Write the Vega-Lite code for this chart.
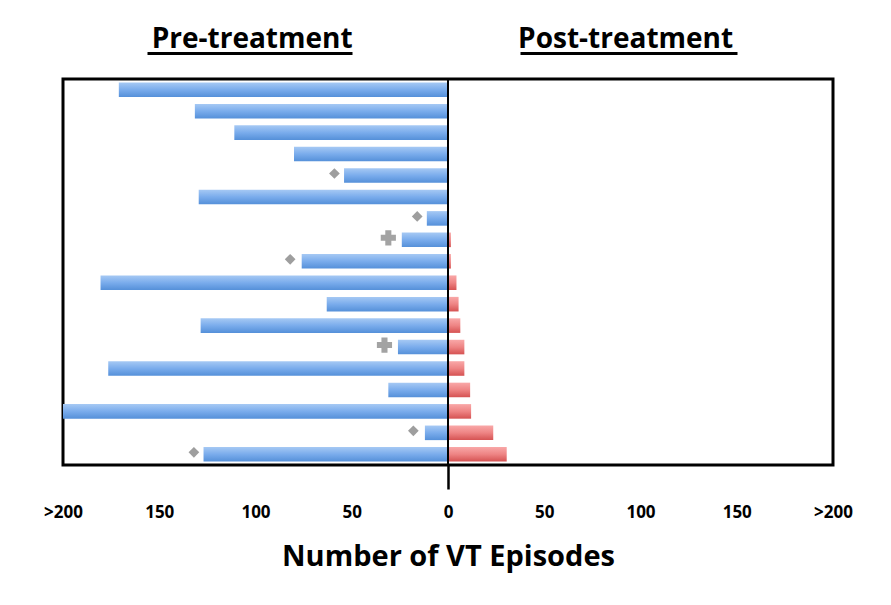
{
  "$schema": "https://vega.github.io/schema/vega-lite/v6.json",
  "width": 770,
  "height": 386,
  "autosize": {"type": "none"},
  "padding": {"left": 63, "top": 79, "right": 58, "bottom": 140},
  "config": {"view": {"stroke": "black", "strokeWidth": 3}, "font": "Open Sans"},
  "datasets": {
    "bars": [
      {"row": 1, "pre": -171, "post": 0},
      {"row": 2, "pre": -131.5, "post": 0},
      {"row": 3, "pre": -111, "post": 0},
      {"row": 4, "pre": -80, "post": 0},
      {"row": 5, "pre": -54, "post": 0},
      {"row": 6, "pre": -129.5, "post": 0.5},
      {"row": 7, "pre": -11, "post": 0},
      {"row": 8, "pre": -24, "post": 1.5},
      {"row": 9, "pre": -76, "post": 1.5},
      {"row": 10, "pre": -180.5, "post": 4.4},
      {"row": 11, "pre": -63, "post": 5.5},
      {"row": 12, "pre": -128.5, "post": 6.4},
      {"row": 13, "pre": -26, "post": 8.5},
      {"row": 14, "pre": -176.5, "post": 8.5},
      {"row": 15, "pre": -31, "post": 11.5},
      {"row": 16, "pre": -200, "post": 12},
      {"row": 17, "pre": -12, "post": 23.5},
      {"row": 18, "pre": -127, "post": 30.5}
    ],
    "markers": [
      {"row": 5, "x": -59, "sym": "diamond"},
      {"row": 7, "x": -16, "sym": "diamond"},
      {"row": 8, "x": -31, "sym": "cross"},
      {"row": 9, "x": -82, "sym": "diamond"},
      {"row": 13, "x": -33, "sym": "cross"},
      {"row": 17, "x": -18, "sym": "diamond"},
      {"row": 18, "x": -132, "sym": "diamond"}
    ]
  },
  "resolve": {"axis": {"x": "independent"}},
  "layer": [
    {
      "data": {"name": "bars"},
      "mark": {
        "type": "bar",
        "color": {
          "gradient": "linear", "x1": 0, "y1": 0, "x2": 0, "y2": 1,
          "stops": [
            {"offset": 0, "color": "#a6c9f4"},
            {"offset": 0.5, "color": "#7aacec"},
            {"offset": 1, "color": "#5590d9"}
          ]
        }
      },
      "encoding": {
        "y": {"field": "row", "type": "ordinal", "axis": null, "scale": {"paddingInner": 0.32, "paddingOuter": 0.16}},
        "x": {
          "field": "pre", "type": "quantitative",
          "scale": {"domain": [-200, 200], "nice": false},
          "axis": {
            "orient": "bottom",
            "values": [-200, -150, -100, -50, 0, 50, 100, 150, 200],
            "labelExpr": "abs(datum.value) == 200 ? '>200' : format(abs(datum.value), 'd')",
            "labelFontSize": 17, "labelFontWeight": "bold", "labelColor": "black",
            "labelFlush": false, "labelOverlap": false,
            "domain": false, "grid": false,
            "tickSize": 24, "tickWidth": 2.5,
            "tickColor": {"condition": {"test": "datum.value == 0", "value": "black"}, "value": "transparent"},
            "labelPadding": 15,
            "title": "Number of VT Episodes",
            "titleFontSize": 29, "titleFontWeight": "bold", "titleColor": "black",
            "titlePadding": 22
          }
        }
      }
    },
    {
      "data": {"name": "bars"},
      "mark": {
        "type": "bar",
        "color": {
          "gradient": "linear", "x1": 0, "y1": 0, "x2": 0, "y2": 1,
          "stops": [
            {"offset": 0, "color": "#f9a8a8"},
            {"offset": 0.5, "color": "#ee8484"},
            {"offset": 1, "color": "#d55252"}
          ]
        }
      },
      "encoding": {
        "y": {"field": "row", "type": "ordinal", "axis": null},
        "x": {"field": "post", "type": "quantitative", "axis": null}
      }
    },
    {
      "data": {"name": "bars"},
      "mark": {"type": "rule", "color": "black", "strokeWidth": 2},
      "encoding": {
        "x": {
          "datum": 0, "type": "quantitative",
          "axis": {
            "orient": "top",
            "values": [-102, 92],
            "labelExpr": "datum.value < 0 ? 'Pre-treatment' : 'Post-treatment'",
            "labelFontSize": 28, "labelFontWeight": "bold", "labelColor": "black",
            "labelBaseline": "alphabetic",
            "labelLimit": 500,
            "domain": false, "ticks": false, "grid": false,
            "labelPadding": 32,
            "title": null
          }
        }
      }
    },
    {
      "data": {"name": "markers"},
      "transform": [{"filter": "datum.sym == 'diamond'"}],
      "mark": {"type": "point", "shape": "diamond", "filled": true, "color": "#9e9e9e", "size": 115, "opacity": 1, "yOffset": -2},
      "encoding": {
        "y": {"field": "row", "type": "ordinal", "axis": null},
        "x": {
          "field": "x", "type": "quantitative",
          "axis": {
            "orient": "top",
            "offset": 26,
            "domain": true,
            "domainColor": "black",
            "domainWidth": 3,
            "domainDash": [0, 84, 205, 168, 217, 400],
            "labels": false, "ticks": false, "grid": false,
            "title": null
          }
        }
      }
    },
    {
      "data": {"name": "markers"},
      "transform": [{"filter": "datum.sym == 'cross'"}],
      "mark": {"type": "point", "shape": "cross", "filled": true, "color": "#a3a3a3", "size": 230, "opacity": 1, "yOffset": -2},
      "encoding": {
        "y": {"field": "row", "type": "ordinal", "axis": null},
        "x": {"field": "x", "type": "quantitative", "axis": null}
      }
    }
  ]
}
